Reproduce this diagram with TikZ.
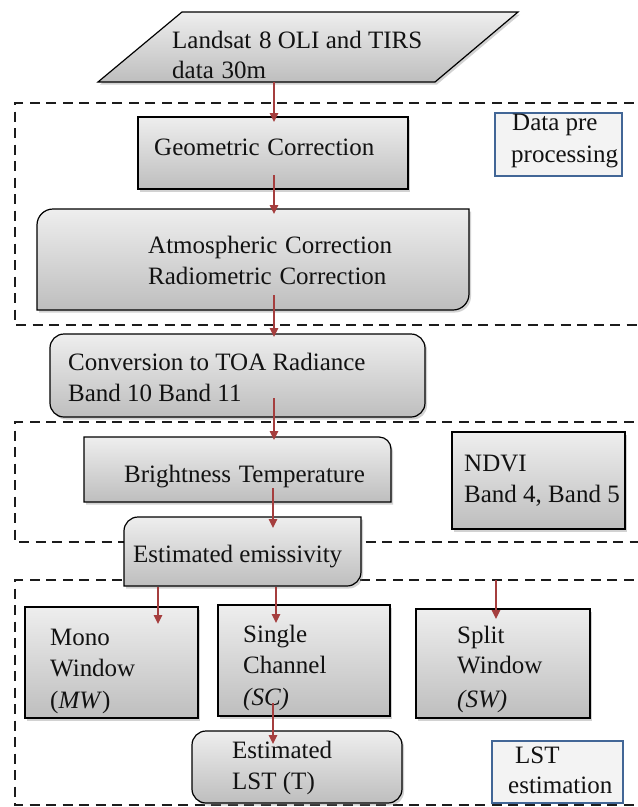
\documentclass[tikz,border=0pt]{standalone}
\usepackage{fontspec}
\setmainfont{Liberation Serif}
\usetikzlibrary{arrows.meta,shadows}
\definecolor{boxtop}{RGB}{238,238,238}
\definecolor{boxbot}{RGB}{190,190,190}
\definecolor{arr}{RGB}{165,62,62}
\definecolor{bluebd}{RGB}{66,102,150}
\definecolor{bluefill}{RGB}{243,243,243}
\definecolor{txtc}{RGB}{18,18,18}
\definecolor{dashc}{RGB}{28,28,28}
\begin{document}
\begin{tikzpicture}[x=1pt,y=-1pt,
  shadowed/.style={drop shadow={shadow xshift=2pt,shadow yshift=-2.5pt,opacity=0.35}},
  boxpath/.style={draw=black,line width=1.2pt,top color=boxtop,bottom color=boxbot,shadowed},
  holder/.style={inner sep=0pt,outer sep=0pt},
  rectbox/.style={holder,boxpath},
  roundbox/.style={holder,boxpath,rounded corners=14pt},
  bluebox/.style={holder,draw=bluebd,line width=2.2pt,fill=bluefill},
  dashbox/.style={draw=dashc,line width=2.6pt,dash pattern=on 10pt off 6.5pt},
  arrowst/.style={draw=arr,line width=1.5pt,-{Triangle[length=9pt,width=8.5pt]}},
  txt/.style={anchor=base west,inner sep=0pt,text=txtc,font=\fontsize{25}{31}\selectfont}]
\useasboundingbox (0,0) rectangle (638,807);
\fill[white] (0,0) rectangle (638,807);

% dashed grouping frames
\draw[dashbox] (650,103) -- (15,103) -- (15,325) -- (650,325);
\draw[dashbox] (650,422) -- (15,422) -- (15,542) -- (650,542);
\draw[dashbox] (650,580) -- (15,580) -- (15,805) -- (650,805);

% input parallelogram
\path[boxpath] (182,12) -- (518,12) -- (435,82) -- (98,82) -- cycle;
\node[txt] (src1) at (172,48) {Landsat\hspace{1.5pt} 8 OLI and TIRS};
\node[txt] (src2) at (172,78) {data\hspace{1.5pt} 30m};
\coordinate (srcb) at (274,82);

% preprocessing
\node[rectbox,minimum width=270pt,minimum height=72pt] (geo) at (273,153) {};
\node[txt] (geot) at (154,155) {Geometric\hspace{1.5pt} Correction};
\node[bluebox,minimum width=127pt,minimum height=63pt] (dpp) at (558.5,144.5) {};
\node[txt] (dpp1) at (512,130) {Data pre};
\node[txt] (dpp2) at (511,162) {processing};

\node[holder,minimum width=432pt,minimum height=101pt] (atm) at (253,259.5) {};
\path[boxpath] ([yshift=-16pt]atm.north west) arc[start angle=180,end angle=90,radius=16pt]
  -- (atm.north east) -- ([yshift=16pt]atm.south east) arc[start angle=0,end angle=-90,radius=16pt]
  -- (atm.south west) -- cycle;
\node[txt] (atm1) at (148,253) {Atmospheric\hspace{1.5pt} Correction};
\node[txt] (atm2) at (148,284) {Radiometric\hspace{1.5pt} Correction};

\node[roundbox,minimum width=375pt,minimum height=83pt] (conv) at (237.5,375.5) {};
\node[txt] (conv1) at (68,370) {Conversion to TOA Radiance};
\node[txt] (conv2) at (68,401) {Band 10 Band 11};

% brightness / NDVI
\node[holder,minimum width=307pt,minimum height=65pt] (bt) at (237.5,469.5) {};
\path[boxpath] (bt.south west) -- (bt.north west) -- ([xshift=-12pt]bt.north east)
  arc[start angle=90,end angle=0,radius=12pt] -- (bt.south east) -- cycle;
\node[txt] (btt) at (124,482) {Brightness\hspace{1.5pt} Temperature};
\node[rectbox,minimum width=173pt,minimum height=97pt] (ndvi) at (538.5,480.5) {};
\node[txt] (ndvi1) at (464,471) {NDVI};
\node[txt] (ndvi2) at (464,502) {Band 4, Band 5};

\node[holder,minimum width=237pt,minimum height=69pt] (emis) at (242.5,551.5) {};
\path[boxpath] ([yshift=-14pt]emis.north west) arc[start angle=180,end angle=90,radius=14pt]
  -- (emis.north east) -- ([yshift=14pt]emis.south east) arc[start angle=0,end angle=-90,radius=14pt]
  -- (emis.south west) -- cycle;
\node[txt] (emist) at (133,562) {Estimated emissivity};

% LST estimation
\node[rectbox,minimum width=173pt,minimum height=111pt] (mw) at (111.5,662.5) {};
\node[txt] (mw1) at (50,645) {Mono};
\node[txt] (mw2) at (50,676) {Window};
\node[txt] (mw3) at (50,708) {(\textit{MW})};
\node[rectbox,minimum width=172pt,minimum height=111pt] (sc) at (304,660.5) {};
\node[txt] (sc1) at (243,642) {Single};
\node[txt] (sc2) at (243,673) {Channel};
\node[txt] (sc3) at (243,705) {\textit{(SC)}};
\node[rectbox,minimum width=174pt,minimum height=109pt] (sw) at (503,663.5) {};
\node[txt] (sw1) at (457,643) {Split};
\node[txt] (sw2) at (457,673) {Window};
\node[txt] (sw3) at (457,707) {\textit{(SW)}};

\node[roundbox,minimum width=210pt,minimum height=72pt] (lst) at (297,767) {};
\node[txt] (lst1) at (232,758) {Estimated};
\node[txt] (lst2) at (232,789) {LST (T)};
\node[bluebox,minimum width=131pt,minimum height=62pt] (lste) at (557.5,772) {};
\node[txt] (lste1) at (515,763) {LST};
\node[txt] (lste2) at (508,793) {estimation};

% arrow end points
\coordinate (geoin) at (274,122);
\coordinate (geoout) at (274,175);
\coordinate (atmin) at (274,214);
\coordinate (atmout) at (274,295);
\coordinate (convin) at (274,337);
\coordinate (convout) at (274,398);
\coordinate (btin) at (274,440);
\coordinate (btout) at (273,488);
\coordinate (emisin) at (273,528);
\coordinate (emisout1) at (158,587);
\coordinate (mwin) at (158,624);
\coordinate (emisout2) at (276,587);
\coordinate (scin) at (276,623);
\coordinate (swtop) at (496,580);
\coordinate (swin) at (496,619);
\coordinate (scout) at (273,703);
\coordinate (lstin) at (273,744);

\draw[arrowst] (srcb) -- (geoin);
\draw[arrowst] (geoout) -- (atmin);
\draw[arrowst] (atmout) -- (convin);
\draw[arrowst] (convout) -- (btin);
\draw[arrowst] (btout) -- (emisin);
\draw[arrowst] (emisout1) -- (mwin);
\draw[arrowst] (emisout2) -- (scin);
\draw[arrowst] (swtop) -- (swin);
\draw[arrowst] (scout) -- (lstin);
\end{tikzpicture}
\end{document}
